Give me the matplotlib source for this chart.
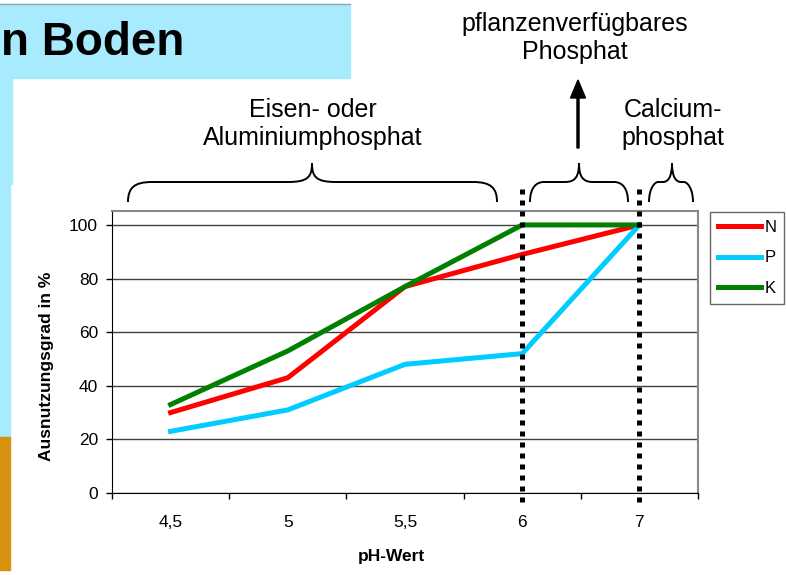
import numpy as np
import matplotlib
matplotlib.use("Agg")
import matplotlib.pyplot as plt
from matplotlib.path import Path
from matplotlib.patches import PathPatch, Rectangle, FancyArrow

plt.rcParams['font.family'] = ['Liberation Sans', 'DejaVu Sans']

# data
ph_labels = ["4,5", "5", "5,5", "6", "7"]
n_vals = [30, 43, 77, 89, 100]
p_vals = [23, 31, 48, 52, 100]
k_vals = [33, 53, 77, 100, 100]
y_ticks = [0, 20, 40, 60, 80, 100]
marker_cats = ["6", "7"]   # dotted boundaries

W, H = 786, 575
fig = plt.figure(figsize=(W / 100, H / 100), dpi=100)


def px(x, y):
    # pixel coords (top-left origin) -> figure fraction
    return x / W, 1 - y / H


# slide decoration: title bar and side strips
fig.patches.append(Rectangle(px(0, 78), 350 / W, 74 / H, transform=fig.transFigure,
                             color="#a8ebff", zorder=0))
fig.add_artist(plt.Line2D([0, 350 / W], [1 - 4 / H] * 2, transform=fig.transFigure,
                          color="#8fa8b8", lw=1))
fig.patches.append(Rectangle(px(0, 184), 12 / W, 106 / H, transform=fig.transFigure,
                             color="#a8ebff", zorder=0))
fig.patches.append(Rectangle(px(0, 437), 10 / W, 253 / H, transform=fig.transFigure,
                             color="#a8ebff", zorder=0))
fig.patches.append(Rectangle(px(0, 570), 10 / W, 133 / H, transform=fig.transFigure,
                             color="#d8900f", zorder=0))
fig.text(*px(1, 43), "n Boden", fontsize=33, fontweight="bold", ha="left", va="center")

# chart
x = np.arange(len(ph_labels))
ax = fig.add_axes([112 / W, 1 - 493 / H, 586 / W, 282 / H])
ax.plot(x, n_vals, color="#ff0000", lw=3.6, label="N", zorder=3)
ax.plot(x, p_vals, color="#00ccff", lw=3.6, label="P", zorder=3)
ax.plot(x, k_vals, color="#008000", lw=3.6, label="K", zorder=3)

for c in marker_cats:
    xi = ph_labels.index(c)
    ax.plot([xi, xi], [-3.5, 114.5], color="black", lw=3.6, dashes=(1, 1.2),
            dash_capstyle="butt", clip_on=False, zorder=4)

ax.set_xlim(-0.5, len(ph_labels) - 0.5)
ax.set_ylim(0, 105.2)
ax.set_yticks(y_ticks)
ax.yaxis.grid(True, color="#404040", lw=1)
ax.set_axisbelow(True)
ax.set_xticks(x)
ax.set_xticklabels(ph_labels, fontsize=12.5)
ax.set_xticks(np.arange(len(ph_labels) + 1) - 0.5, minor=True)
ax.tick_params(axis="x", which="major", length=0, pad=16)
ax.tick_params(axis="x", which="minor", length=4, direction="out", width=1)
ax.tick_params(axis="y", labelsize=12.5, length=4, width=1, pad=6)
for s in ["top", "right"]:
    ax.spines[s].set_color("#888888")
    ax.spines[s].set_linewidth(1.5)
ax.spines["left"].set_color("black")
ax.spines["bottom"].set_color("black")

fig.text(*px(47, 366), "Ausnutzungsgrad in %", rotation=90, fontsize=12.5,
         fontweight="bold", ha="center", va="center")
fig.text(*px(391, 557), "pH-Wert", fontsize=12.5, fontweight="bold",
         ha="center", va="center")

leg = fig.legend(loc="upper left", bbox_to_anchor=px(710, 212), fontsize=12,
                 handlelength=2.6, handletextpad=0.2, labelspacing=0.95,
                 borderpad=0.45, borderaxespad=0, fancybox=False, frameon=True)
leg.get_frame().set_edgecolor("#404040")
leg.get_frame().set_linewidth(1)


# curly braces
def brace(x0, x1, xm, ybot=202, yflat=182, ytip=163, r=22):
    pts = [px(x0, ybot),
           px(x0, yflat + 6), px(x0 + 6, yflat), px(x0 + r, yflat),
           px(xm - r, yflat),
           px(xm - 4, yflat), px(xm, yflat - 5), px(xm, ytip),
           px(xm, yflat - 5), px(xm + 4, yflat), px(xm + r, yflat),
           px(x1 - r, yflat),
           px(x1 - 6, yflat), px(x1, yflat + 6), px(x1, ybot)]
    codes = [Path.MOVETO,
             Path.CURVE4, Path.CURVE4, Path.CURVE4,
             Path.LINETO,
             Path.CURVE4, Path.CURVE4, Path.CURVE4,
             Path.CURVE4, Path.CURVE4, Path.CURVE4,
             Path.LINETO,
             Path.CURVE4, Path.CURVE4, Path.CURVE4]
    fig.patches.append(PathPatch(Path(pts, codes), transform=fig.transFigure,
                                 fill=False, lw=1.4, color="black"))


brace(128, 497, 312, r=24)
brace(530, 628, 579, r=14)
brace(649, 693, 672, r=9)

fig.text(*px(313, 124), "Eisen- oder\nAluminiumphosphat", fontsize=18,
         ha="center", va="center", linespacing=1.2)
fig.text(*px(575, 38), "pflanzenverfügbares\nPhosphat", fontsize=18,
         ha="center", va="center", linespacing=1.2)
fig.text(*px(673, 124), "Calcium-\nphosphat", fontsize=18,
         ha="center", va="center", linespacing=1.2)

ax0, ay0 = px(578, 148)
ax1, ay1 = px(578, 80)
fig.add_artist(FancyArrow(ax0, ay0, 0, ay1 - ay0, width=1.5 / H, head_width=15 / W,
                          head_length=18 / H, length_includes_head=True,
                          transform=fig.transFigure, color="black"))

fig.savefig("out.png", dpi=100)
